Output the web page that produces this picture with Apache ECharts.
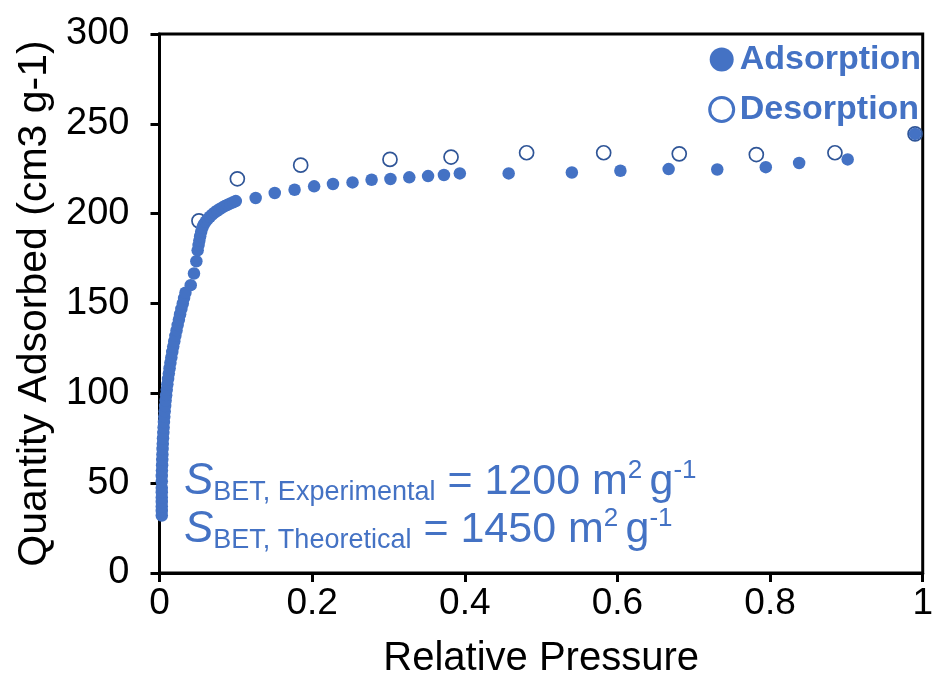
<!DOCTYPE html>
<html>
<head>
<meta charset="utf-8">
<script src="https://cdn.jsdelivr.net/npm/echarts@6/dist/echarts.min.js"></script>
<style>html,body{margin:0;padding:0;background:#fff;}#c{width:936px;height:684px;}</style>
</head>
<body>
<div id="c"></div>
<script>
// ---- data ----
const xTicks = [0, 0.2, 0.4, 0.6, 0.8, 1];
const yTicks = [0, 50, 100, 150, 200, 250, 300];

const adsorption = [
  [0.003,32],[0.003,34.5],[0.003,37],[0.003,39.5],[0.003,42],[0.003,45],[0.003,47.5],[0.003,51],[0.003,54],
  [0.0032,57],[0.0034,60],[0.0036,63],[0.0038,66],[0.004,69],[0.0043,72],[0.0046,75],[0.005,78],[0.0054,81],
  [0.0058,84],[0.0063,87],[0.0068,90],[0.0074,93],[0.008,96],[0.0087,99],[0.0095,102],[0.0103,105],[0.0112,108],
  [0.0122,111],[0.0132,114],[0.0143,117],[0.0155,120],[0.0167,123],[0.018,126],[0.0194,129],[0.0208,132],
  [0.0223,135],[0.0238,138],[0.0254,141],[0.027,144],[0.0287,147],[0.0305,150],[0.0322,153],[0.034,156],
  [0.0409,160.2],[0.0452,166.7],[0.0483,173.5],[0.05,179.6],[0.0512,182.5],[0.0522,185],[0.0533,187.5],
  [0.0546,190],[0.0562,192.2],[0.058,194],[0.0605,195.6],[0.0632,197],[0.066,198.3],[0.069,199.5],[0.0722,200.6],
  [0.0755,201.6],[0.079,202.6],[0.0825,203.5],[0.086,204.3],[0.0895,205],[0.093,205.7],[0.0965,206.3],[0.1,207],
  [0.126,208.7],[0.151,211.5],[0.177,213.3],[0.2026,215.2],[0.2273,216.5],[0.2529,217.4],[0.2779,218.9],
  [0.3026,219.3],[0.3273,220.2],[0.3519,220.9],[0.3727,221.5],[0.3935,222.4],[0.4575,222.4],[0.5403,222.9],
  [0.6039,223.9],[0.6671,224.8],[0.7308,224.6],[0.7944,225.9],[0.8381,228.2],[0.9017,230.2],[0.99,244.4]
];

const desorption = [
  [0.0517,196],[0.102,219.4],[0.185,227],[0.302,230.2],[0.382,231.5],[0.481,233.9],
  [0.582,233.9],[0.681,233.3],[0.782,232.9],[0.885,233.9],[0.99,244.4]
];

const seriesNames = ['Adsorption', 'Desorption'];
const annotationLines = [
  ['BET, Experimental', '1200'],
  ['BET, Theoretical', '1450']
];

// ---- chart ----
const BLUE = '#4472C4';
const NAVY = '#2F5597';
const FONT = '"Liberation Sans", Arial, Helvetica, sans-serif';

const chart = echarts.init(document.getElementById('c'), null, {renderer: 'canvas'});

const richStyle = {
  s:   {fontFamily: FONT, fontSize: 44, fontStyle: 'italic', fill: BLUE, lineHeight: 48},
  sub: {fontFamily: FONT, fontSize: 27, fill: BLUE, lineHeight: 22, verticalAlign: 'bottom'},
  eq:  {fontFamily: FONT, fontSize: 43, fill: BLUE, lineHeight: 48},
  sup: {fontFamily: FONT, fontSize: 26, fill: BLUE, lineHeight: 22, verticalAlign: 'top'}
};

function annText(line) {
  return '{s|S}{sub|' + line[0] + '}{eq| = ' + line[1] + ' m}{sup|2 }{eq|g}{sup|-1}';
}

chart.setOption({
  animation: false,
  backgroundColor: '#fff',
  grid: {
    left: 159.5, right: 7, top: 34, bottom: 109,
    show: true, borderColor: '#000', borderWidth: 3, backgroundColor: 'transparent'
  },
  legend: {
    data: [
      {name: seriesNames[0], icon: 'circle', itemStyle: {color: BLUE, borderWidth: 0, opacity: 1}},
      {name: seriesNames[1], icon: 'circle', itemStyle: {color: '#fff', borderColor: BLUE, borderWidth: 3, opacity: 1}}
    ],
    orient: 'vertical',
    right: 10, top: 37,
    itemWidth: 24, itemHeight: 24, itemGap: 15,
    selectedMode: false,
    textStyle: {fontFamily: FONT, fontSize: 34, fontWeight: 'bold', color: BLUE, lineHeight: 35, padding: [0, 0, 0, 1]}
  },
  xAxis: {
    type: 'value', min: xTicks[0], max: xTicks[xTicks.length - 1], interval: 0.2,
    name: 'Relative Pressure', nameLocation: 'middle', nameGap: 66,
    nameTextStyle: {fontFamily: FONT, fontSize: 40, color: '#000'},
    axisLine: {show: true, lineStyle: {color: '#000', width: 3}},
    axisTick: {show: true, inside: false, length: 9, lineStyle: {color: '#000', width: 3}},
    axisLabel: {fontFamily: FONT, fontSize: 37, color: '#000', margin: 12,
      formatter: v => String(+v.toFixed(1))},
    splitLine: {show: false}
  },
  yAxis: {
    type: 'value', min: yTicks[0], max: yTicks[yTicks.length - 1], interval: 50,
    name: 'Quantity Adsorbed (cm3 g-1)', nameLocation: 'middle', nameGap: 100, nameRotate: 90,
    nameTextStyle: {fontFamily: FONT, fontSize: 41, color: '#000'},
    axisLine: {show: true, lineStyle: {color: '#000', width: 3}},
    axisTick: {show: true, inside: false, length: 9, lineStyle: {color: '#000', width: 3}},
    axisLabel: {fontFamily: FONT, fontSize: 38, color: '#000', margin: 30},
    splitLine: {show: false}
  },
  graphic: [
    {type: 'text', left: 184, top: 458, z: 100, style: {text: annText(annotationLines[0]), fill: BLUE, rich: richStyle}},
    {type: 'text', left: 184, top: 506, z: 100, style: {text: annText(annotationLines[1]), fill: BLUE, rich: richStyle}}
  ],
  series: [
    {
      name: seriesNames[1], type: 'scatter', data: desorption, z: 2,
      symbol: 'circle', symbolSize: 14,
      itemStyle: {color: 'rgba(255,255,255,0)', borderColor: NAVY, borderWidth: 1.7, opacity: 1},
      emphasis: {disabled: true}
    },
    {
      name: seriesNames[0], type: 'scatter', data: adsorption, z: 3,
      symbol: 'circle', symbolSize: 12.5,
      itemStyle: {color: BLUE, opacity: 1},
      emphasis: {disabled: true}
    }
  ]
});
</script>
</body>
</html>
